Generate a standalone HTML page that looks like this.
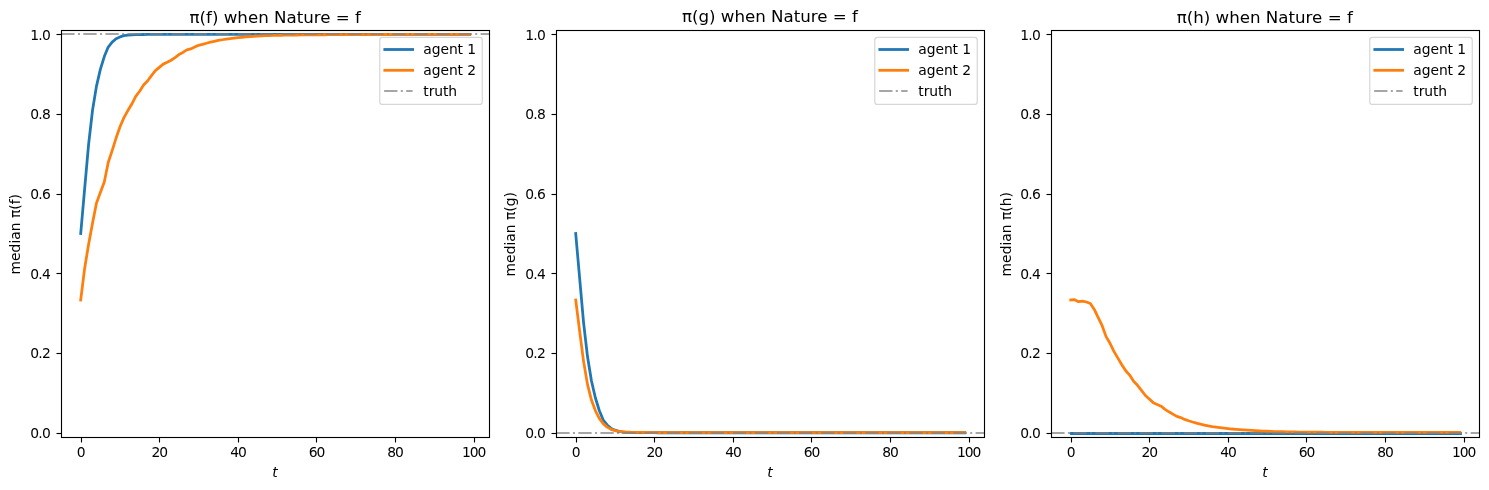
<!DOCTYPE html>
<html lang="en"><head><meta charset="utf-8"><title>Posterior medians</title>
<style>html,body{margin:0;padding:0;background:#fff;overflow:hidden}svg{display:block}</style></head>
<body>
<svg width="1489" height="490" viewBox="0 0 1489 490" font-family="'DejaVu Sans', 'Liberation Sans', sans-serif" fill="#000">
<rect width="1489" height="490" fill="#fff"/>
<g id="ax0">
<clipPath id="c0"><rect x="61.26" y="30.4" width="427.94" height="406.32000000000005"/></clipPath>
<g clip-path="url(#c0)">
<polyline points="80.71,233.56 84.64,188.96 88.57,144.56 92.50,110.53 96.43,86.35 100.36,69.39 104.29,56.59 108.22,47.05 112.15,42.13 116.08,38.73 120.01,36.92 123.94,35.69 127.87,35.10 131.80,34.81 135.73,34.70 139.66,34.58 143.59,34.49 147.52,34.47 151.45,34.44 155.38,34.42 159.31,34.39 163.23,34.38 167.16,34.38 171.09,34.38 175.02,34.38 178.95,34.38 182.88,34.38 186.81,34.38 190.74,34.38 194.67,34.38 198.60,34.38 202.53,34.38 206.46,34.38 210.39,34.38 214.32,34.38 218.25,34.38 222.18,34.38 226.11,34.38 230.04,34.38 233.97,34.38 237.90,34.38 241.83,34.38 245.76,34.38 249.69,34.38 253.62,34.38 257.55,34.38 261.48,34.38 265.41,34.38 269.34,34.38 273.27,34.38 277.19,34.38 281.12,34.38 285.05,34.38 288.98,34.38 292.91,34.38 296.84,34.38 300.77,34.38 304.70,34.38 308.63,34.38 312.56,34.38 316.49,34.38 320.42,34.38 324.35,34.38 328.28,34.38 332.21,34.38 336.14,34.38 340.07,34.38 344.00,34.38 347.93,34.38 351.86,34.38 355.79,34.38 359.72,34.38 363.65,34.38 367.58,34.38 371.51,34.38 375.44,34.38 379.37,34.38 383.30,34.38 387.23,34.38 391.15,34.38 395.08,34.38 399.01,34.38 402.94,34.38 406.87,34.38 410.80,34.38 414.73,34.38 418.66,34.38 422.59,34.38 426.52,34.38 430.45,34.38 434.38,34.38 438.31,34.38 442.24,34.38 446.17,34.38 450.10,34.38 454.03,34.38 457.96,34.38 461.89,34.38 465.82,34.38 469.75,34.38" fill="none" stroke="#1f77b4" stroke-width="2.78" stroke-linejoin="round" stroke-linecap="square"/>
<polyline points="80.71,299.95 84.64,268.42 88.57,244.44 92.50,223.30 96.43,203.20 100.36,192.60 104.29,182.00 108.22,162.50 112.15,150.59 116.08,138.06 120.01,126.82 123.94,117.67 127.87,110.58 131.80,104.04 135.73,96.27 139.66,91.26 143.59,84.97 147.52,81.03 151.45,75.61 155.38,70.65 159.31,67.35 163.23,64.12 167.16,62.25 171.09,60.22 175.02,57.60 178.95,54.54 182.88,52.43 186.81,49.91 190.74,48.92 194.67,47.08 198.60,45.34 202.53,44.35 206.46,43.28 210.39,42.16 214.32,41.27 218.25,40.40 222.18,39.75 226.11,39.15 230.04,38.63 233.97,38.13 237.90,37.70 241.83,37.31 245.76,36.93 249.69,36.57 253.62,36.28 257.55,36.04 261.48,35.84 265.41,35.69 269.34,35.56 273.27,35.44 277.19,35.33 281.12,35.26 285.05,35.19 288.98,35.12 292.91,35.06 296.84,35.01 300.77,34.97 304.70,34.92 308.63,34.87 312.56,34.83 316.49,34.81 320.42,34.78 324.35,34.75 328.28,34.73 332.21,34.70 336.14,34.68 340.07,34.65 344.00,34.64 347.93,34.62 351.86,34.61 355.79,34.59 359.72,34.58 363.65,34.56 367.58,34.55 371.51,34.53 375.44,34.52 379.37,34.50 383.30,34.49 387.23,34.49 391.15,34.48 395.08,34.47 399.01,34.46 402.94,34.45 406.87,34.45 410.80,34.44 414.73,34.43 418.66,34.42 422.59,34.42 426.52,34.41 430.45,34.41 434.38,34.41 438.31,34.41 442.24,34.40 446.17,34.40 450.10,34.40 454.03,34.39 457.96,34.39 461.89,34.39 465.82,34.38 469.75,34.38" fill="none" stroke="#ff7f0e" stroke-width="2.78" stroke-linejoin="round" stroke-linecap="square"/>
<line x1="61.26" y1="34.00" x2="489.20" y2="34.00" stroke="#808080" stroke-opacity="0.7" stroke-width="2" stroke-dasharray="13.33 3.33 2.08 3.33"/>
</g>
<line x1="81.5" y1="437.5" x2="81.5" y2="442.5" stroke="#000" stroke-width="1.11"/>
<text x="80.71" y="456.99" font-size="13.89" letter-spacing="-1.1" text-anchor="middle">0</text>
<line x1="159.5" y1="437.5" x2="159.5" y2="442.5" stroke="#000" stroke-width="1.11"/>
<text x="159.31" y="456.99" font-size="13.89" letter-spacing="-1.1" text-anchor="middle">20</text>
<line x1="238.5" y1="437.5" x2="238.5" y2="442.5" stroke="#000" stroke-width="1.11"/>
<text x="237.90" y="456.99" font-size="13.89" letter-spacing="-1.1" text-anchor="middle">40</text>
<line x1="316.5" y1="437.5" x2="316.5" y2="442.5" stroke="#000" stroke-width="1.11"/>
<text x="316.49" y="456.99" font-size="13.89" letter-spacing="-1.1" text-anchor="middle">60</text>
<line x1="395.5" y1="437.5" x2="395.5" y2="442.5" stroke="#000" stroke-width="1.11"/>
<text x="395.08" y="456.99" font-size="13.89" letter-spacing="-1.1" text-anchor="middle">80</text>
<line x1="474.5" y1="437.5" x2="474.5" y2="442.5" stroke="#000" stroke-width="1.11"/>
<text x="473.68" y="456.99" font-size="13.89" letter-spacing="-1.1" text-anchor="middle">100</text>
<line x1="56.5" y1="433.5" x2="61.5" y2="433.5" stroke="#000" stroke-width="1.11"/>
<text x="49.99" y="438.04" font-size="13.89" letter-spacing="-0.75" text-anchor="end">0.0</text>
<line x1="56.5" y1="353.5" x2="61.5" y2="353.5" stroke="#000" stroke-width="1.11"/>
<text x="49.99" y="358.37" font-size="13.89" letter-spacing="-0.75" text-anchor="end">0.2</text>
<line x1="56.5" y1="273.5" x2="61.5" y2="273.5" stroke="#000" stroke-width="1.11"/>
<text x="49.99" y="278.70" font-size="13.89" letter-spacing="-0.75" text-anchor="end">0.4</text>
<line x1="56.5" y1="194.5" x2="61.5" y2="194.5" stroke="#000" stroke-width="1.11"/>
<text x="49.99" y="199.02" font-size="13.89" letter-spacing="-0.75" text-anchor="end">0.6</text>
<line x1="56.5" y1="114.5" x2="61.5" y2="114.5" stroke="#000" stroke-width="1.11"/>
<text x="49.99" y="119.35" font-size="13.89" letter-spacing="-0.75" text-anchor="end">0.8</text>
<line x1="56.5" y1="34.5" x2="61.5" y2="34.5" stroke="#000" stroke-width="1.11"/>
<text x="49.99" y="39.68" font-size="13.89" letter-spacing="-0.75" text-anchor="end">1.0</text>
<rect x="61.5" y="30.5" width="428.0" height="407.0" fill="none" stroke="#000" stroke-width="1.11" stroke-linejoin="miter"/>
<text x="275.23" y="23.0" font-size="16.67" text-anchor="middle">π(f) when Nature = f</text>
<text x="274.93" y="476.5" font-size="13.89" font-style="italic" text-anchor="middle">t</text>
<text transform="translate(19.96,234.2) rotate(-90)" font-size="13.89" text-anchor="middle">median π(f)</text>
<rect x="379.76" y="37.34" width="102.50" height="67.10" rx="2.8" ry="2.8" fill="#fff" fill-opacity="0.8" stroke="#ccc" stroke-opacity="0.8" stroke-width="1.2"/>
<line x1="384.82" y1="49.5" x2="412.60" y2="49.5" stroke="#1f77b4" stroke-width="2.78" stroke-linecap="square"/>
<line x1="384.82" y1="70.3" x2="412.60" y2="70.3" stroke="#ff7f0e" stroke-width="2.78" stroke-linecap="square"/>
<line x1="384.12" y1="91.0" x2="412.60" y2="91.0" stroke="#808080" stroke-opacity="0.7" stroke-width="2.08" stroke-dasharray="13.33 3.33 2.08 3.33"/>
<text x="423.31" y="53.90" font-size="13.89" letter-spacing="-0.08">agent 1</text>
<text x="423.31" y="74.70" font-size="13.89" letter-spacing="-0.08">agent 2</text>
<text x="423.31" y="96.40" font-size="13.89" letter-spacing="-0.08">truth</text>
</g>
<g id="ax1">
<clipPath id="c1"><rect x="556.26" y="30.4" width="427.94" height="406.32000000000005"/></clipPath>
<g clip-path="url(#c1)">
<polyline points="575.71,233.56 579.64,278.16 583.57,322.56 587.50,356.59 591.43,380.77 595.36,397.73 599.29,410.53 603.22,420.07 607.15,424.99 611.08,428.39 615.01,430.20 618.94,431.43 622.87,432.02 626.80,432.31 630.73,432.42 634.66,432.54 638.59,432.63 642.52,432.65 646.45,432.68 650.38,432.70 654.31,432.73 658.23,432.74 662.16,432.74 666.09,432.74 670.02,432.74 673.95,432.74 677.88,432.74 681.81,432.74 685.74,432.74 689.67,432.74 693.60,432.74 697.53,432.74 701.46,432.74 705.39,432.74 709.32,432.74 713.25,432.74 717.18,432.74 721.11,432.74 725.04,432.74 728.97,432.74 732.90,432.74 736.83,432.74 740.76,432.74 744.69,432.74 748.62,432.74 752.55,432.74 756.48,432.74 760.41,432.74 764.34,432.74 768.27,432.74 772.19,432.74 776.12,432.74 780.05,432.74 783.98,432.74 787.91,432.74 791.84,432.74 795.77,432.74 799.70,432.74 803.63,432.74 807.56,432.74 811.49,432.74 815.42,432.74 819.35,432.74 823.28,432.74 827.21,432.74 831.14,432.74 835.07,432.74 839.00,432.74 842.93,432.74 846.86,432.74 850.79,432.74 854.72,432.74 858.65,432.74 862.58,432.74 866.51,432.74 870.44,432.74 874.37,432.74 878.30,432.74 882.23,432.74 886.15,432.74 890.08,432.74 894.01,432.74 897.94,432.74 901.87,432.74 905.80,432.74 909.73,432.74 913.66,432.74 917.59,432.74 921.52,432.74 925.45,432.74 929.38,432.74 933.31,432.74 937.24,432.74 941.17,432.74 945.10,432.74 949.03,432.74 952.96,432.74 956.89,432.74 960.82,432.74 964.75,432.74" fill="none" stroke="#1f77b4" stroke-width="2.78" stroke-linejoin="round" stroke-linecap="square"/>
<polyline points="575.71,299.95 579.64,331.07 583.57,361.37 587.50,384.39 591.43,400.10 595.36,410.58 599.29,418.41 603.22,423.62 607.15,427.09 611.08,429.31 615.01,430.63 618.94,431.35 622.87,431.70 626.80,432.02 630.73,432.23 634.66,432.31 638.59,432.38 642.52,432.45 646.45,432.50 650.38,432.52 654.31,432.53 658.23,432.54 662.16,432.55 666.09,432.56 670.02,432.58 673.95,432.59 677.88,432.60 681.81,432.61 685.74,432.62 689.67,432.63 693.60,432.65 697.53,432.65 701.46,432.65 705.39,432.65 709.32,432.65 713.25,432.65 717.18,432.65 721.11,432.65 725.04,432.66 728.97,432.66 732.90,432.66 736.83,432.66 740.76,432.66 744.69,432.66 748.62,432.66 752.55,432.66 756.48,432.66 760.41,432.66 764.34,432.66 768.27,432.66 772.19,432.66 776.12,432.67 780.05,432.67 783.98,432.67 787.91,432.67 791.84,432.67 795.77,432.67 799.70,432.67 803.63,432.67 807.56,432.67 811.49,432.67 815.42,432.67 819.35,432.67 823.28,432.67 827.21,432.67 831.14,432.68 835.07,432.68 839.00,432.68 842.93,432.68 846.86,432.68 850.79,432.68 854.72,432.68 858.65,432.68 862.58,432.68 866.51,432.68 870.44,432.68 874.37,432.68 878.30,432.68 882.23,432.68 886.15,432.69 890.08,432.69 894.01,432.69 897.94,432.69 901.87,432.69 905.80,432.69 909.73,432.69 913.66,432.69 917.59,432.69 921.52,432.69 925.45,432.69 929.38,432.69 933.31,432.69 937.24,432.69 941.17,432.70 945.10,432.70 949.03,432.70 952.96,432.70 956.89,432.70 960.82,432.70 964.75,432.70" fill="none" stroke="#ff7f0e" stroke-width="2.78" stroke-linejoin="round" stroke-linecap="square"/>
<line x1="556.26" y1="433.00" x2="984.20" y2="433.00" stroke="#808080" stroke-opacity="0.7" stroke-width="2" stroke-dasharray="13.33 3.33 2.08 3.33"/>
</g>
<line x1="576.5" y1="437.5" x2="576.5" y2="442.5" stroke="#000" stroke-width="1.11"/>
<text x="575.71" y="456.99" font-size="13.89" letter-spacing="-1.1" text-anchor="middle">0</text>
<line x1="654.5" y1="437.5" x2="654.5" y2="442.5" stroke="#000" stroke-width="1.11"/>
<text x="654.31" y="456.99" font-size="13.89" letter-spacing="-1.1" text-anchor="middle">20</text>
<line x1="733.5" y1="437.5" x2="733.5" y2="442.5" stroke="#000" stroke-width="1.11"/>
<text x="732.90" y="456.99" font-size="13.89" letter-spacing="-1.1" text-anchor="middle">40</text>
<line x1="811.5" y1="437.5" x2="811.5" y2="442.5" stroke="#000" stroke-width="1.11"/>
<text x="811.49" y="456.99" font-size="13.89" letter-spacing="-1.1" text-anchor="middle">60</text>
<line x1="890.5" y1="437.5" x2="890.5" y2="442.5" stroke="#000" stroke-width="1.11"/>
<text x="890.08" y="456.99" font-size="13.89" letter-spacing="-1.1" text-anchor="middle">80</text>
<line x1="969.5" y1="437.5" x2="969.5" y2="442.5" stroke="#000" stroke-width="1.11"/>
<text x="968.68" y="456.99" font-size="13.89" letter-spacing="-1.1" text-anchor="middle">100</text>
<line x1="551.5" y1="433.5" x2="556.5" y2="433.5" stroke="#000" stroke-width="1.11"/>
<text x="544.99" y="438.04" font-size="13.89" letter-spacing="-0.75" text-anchor="end">0.0</text>
<line x1="551.5" y1="353.5" x2="556.5" y2="353.5" stroke="#000" stroke-width="1.11"/>
<text x="544.99" y="358.37" font-size="13.89" letter-spacing="-0.75" text-anchor="end">0.2</text>
<line x1="551.5" y1="273.5" x2="556.5" y2="273.5" stroke="#000" stroke-width="1.11"/>
<text x="544.99" y="278.70" font-size="13.89" letter-spacing="-0.75" text-anchor="end">0.4</text>
<line x1="551.5" y1="194.5" x2="556.5" y2="194.5" stroke="#000" stroke-width="1.11"/>
<text x="544.99" y="199.02" font-size="13.89" letter-spacing="-0.75" text-anchor="end">0.6</text>
<line x1="551.5" y1="114.5" x2="556.5" y2="114.5" stroke="#000" stroke-width="1.11"/>
<text x="544.99" y="119.35" font-size="13.89" letter-spacing="-0.75" text-anchor="end">0.8</text>
<line x1="551.5" y1="34.5" x2="556.5" y2="34.5" stroke="#000" stroke-width="1.11"/>
<text x="544.99" y="39.68" font-size="13.89" letter-spacing="-0.75" text-anchor="end">1.0</text>
<rect x="556.5" y="30.5" width="428.0" height="407.0" fill="none" stroke="#000" stroke-width="1.11" stroke-linejoin="miter"/>
<text x="769.93" y="22.3" font-size="16.67" text-anchor="middle">π(g) when Nature = f</text>
<text x="769.93" y="476.5" font-size="13.89" font-style="italic" text-anchor="middle">t</text>
<text transform="translate(514.96,234.2) rotate(-90)" font-size="13.89" text-anchor="middle">median π(g)</text>
<rect x="874.76" y="37.34" width="102.50" height="67.10" rx="2.8" ry="2.8" fill="#fff" fill-opacity="0.8" stroke="#ccc" stroke-opacity="0.8" stroke-width="1.2"/>
<line x1="879.82" y1="49.5" x2="907.60" y2="49.5" stroke="#1f77b4" stroke-width="2.78" stroke-linecap="square"/>
<line x1="879.82" y1="70.3" x2="907.60" y2="70.3" stroke="#ff7f0e" stroke-width="2.78" stroke-linecap="square"/>
<line x1="879.12" y1="91.0" x2="907.60" y2="91.0" stroke="#808080" stroke-opacity="0.7" stroke-width="2.08" stroke-dasharray="13.33 3.33 2.08 3.33"/>
<text x="918.31" y="53.90" font-size="13.89" letter-spacing="-0.08">agent 1</text>
<text x="918.31" y="74.70" font-size="13.89" letter-spacing="-0.08">agent 2</text>
<text x="918.31" y="96.40" font-size="13.89" letter-spacing="-0.08">truth</text>
</g>
<g id="ax2">
<clipPath id="c2"><rect x="1051.26" y="30.4" width="427.94" height="406.32000000000005"/></clipPath>
<g clip-path="url(#c2)">
<polyline points="1071.46,433.50 1075.39,433.50 1079.32,433.50 1083.25,433.50 1087.18,433.50 1091.11,433.50 1095.04,433.50 1098.97,433.50 1102.90,433.50 1106.83,433.50 1110.76,433.50 1114.69,433.50 1118.62,433.50 1122.55,433.50 1126.48,433.50 1130.41,433.50 1134.34,433.50 1138.27,433.50 1142.20,433.50 1146.13,433.50 1150.06,433.50 1153.98,433.50 1157.91,433.50 1161.84,433.50 1165.77,433.50 1169.70,433.50 1173.63,433.50 1177.56,433.50 1181.49,433.50 1185.42,433.50 1189.35,433.50 1193.28,433.50 1197.21,433.50 1201.14,433.50 1205.07,433.50 1209.00,433.50 1212.93,433.50 1216.86,433.50 1220.79,433.50 1224.72,433.50 1228.65,433.50 1232.58,433.50 1236.51,433.50 1240.44,433.50 1244.37,433.50 1248.30,433.50 1252.23,433.50 1256.16,433.50 1260.09,433.50 1264.02,433.50 1267.94,433.50 1271.87,433.50 1275.80,433.50 1279.73,433.50 1283.66,433.50 1287.59,433.50 1291.52,433.50 1295.45,433.50 1299.38,433.50 1303.31,433.50 1307.24,433.50 1311.17,433.50 1315.10,433.50 1319.03,433.50 1322.96,433.50 1326.89,433.50 1330.82,433.50 1334.75,433.50 1338.68,433.50 1342.61,433.50 1346.54,433.50 1350.47,433.50 1354.40,433.50 1358.33,433.50 1362.26,433.50 1366.19,433.50 1370.12,433.50 1374.05,433.50 1377.98,433.50 1381.90,433.50 1385.83,433.50 1389.76,433.50 1393.69,433.50 1397.62,433.50 1401.55,433.50 1405.48,433.50 1409.41,433.50 1413.34,433.50 1417.27,433.50 1421.20,433.50 1425.13,433.50 1429.06,433.50 1432.99,433.50 1436.92,433.50 1440.85,433.50 1444.78,433.50 1448.71,433.50 1452.64,433.50 1456.57,433.50 1460.50,433.50" fill="none" stroke="#1f77b4" stroke-width="2.78" stroke-linejoin="round" stroke-linecap="square"/>
<polyline points="1070.71,299.95 1074.64,299.70 1078.57,301.70 1082.50,301.20 1086.43,302.00 1090.36,303.50 1094.29,309.40 1098.22,317.55 1102.15,325.70 1106.08,336.60 1110.01,343.30 1113.94,351.40 1117.87,358.10 1121.80,364.70 1125.73,370.80 1129.66,375.10 1133.59,381.20 1137.52,385.30 1141.45,390.40 1145.38,395.50 1149.31,399.10 1153.23,402.65 1157.16,404.40 1161.09,406.20 1165.02,409.30 1168.95,411.80 1172.88,414.10 1176.81,416.40 1180.74,417.60 1184.67,419.40 1188.60,420.78 1192.53,421.98 1196.46,423.08 1200.39,424.16 1204.32,425.05 1208.25,425.95 1212.18,426.65 1216.11,427.16 1220.04,427.67 1223.97,428.14 1227.90,428.60 1231.83,429.01 1235.76,429.33 1239.69,429.64 1243.62,429.92 1247.55,430.20 1251.48,430.46 1255.41,430.69 1259.34,430.92 1263.27,431.11 1267.19,431.26 1271.12,431.41 1275.05,431.53 1278.98,431.65 1282.91,431.74 1286.84,431.82 1290.77,431.90 1294.70,431.98 1298.63,432.06 1302.56,432.11 1306.49,432.14 1310.42,432.17 1314.35,432.19 1318.28,432.22 1322.21,432.25 1326.14,432.27 1330.07,432.30 1334.00,432.30 1337.93,432.30 1341.86,432.31 1345.79,432.31 1349.72,432.31 1353.65,432.31 1357.58,432.31 1361.51,432.31 1365.44,432.32 1369.37,432.32 1373.30,432.32 1377.23,432.32 1381.15,432.32 1385.08,432.33 1389.01,432.33 1392.94,432.33 1396.87,432.33 1400.80,432.33 1404.73,432.33 1408.66,432.34 1412.59,432.34 1416.52,432.34 1420.45,432.34 1424.38,432.34 1428.31,432.35 1432.24,432.35 1436.17,432.35 1440.10,432.35 1444.03,432.35 1447.96,432.35 1451.89,432.36 1455.82,432.36 1459.75,432.36" fill="none" stroke="#ff7f0e" stroke-width="2.78" stroke-linejoin="round" stroke-linecap="square"/>
<line x1="1051.26" y1="433.00" x2="1479.20" y2="433.00" stroke="#808080" stroke-opacity="0.7" stroke-width="2" stroke-dasharray="13.33 3.33 2.08 3.33"/>
</g>
<line x1="1071.5" y1="437.5" x2="1071.5" y2="442.5" stroke="#000" stroke-width="1.11"/>
<text x="1070.71" y="456.99" font-size="13.89" letter-spacing="-1.1" text-anchor="middle">0</text>
<line x1="1149.5" y1="437.5" x2="1149.5" y2="442.5" stroke="#000" stroke-width="1.11"/>
<text x="1149.31" y="456.99" font-size="13.89" letter-spacing="-1.1" text-anchor="middle">20</text>
<line x1="1228.5" y1="437.5" x2="1228.5" y2="442.5" stroke="#000" stroke-width="1.11"/>
<text x="1227.90" y="456.99" font-size="13.89" letter-spacing="-1.1" text-anchor="middle">40</text>
<line x1="1306.5" y1="437.5" x2="1306.5" y2="442.5" stroke="#000" stroke-width="1.11"/>
<text x="1306.49" y="456.99" font-size="13.89" letter-spacing="-1.1" text-anchor="middle">60</text>
<line x1="1385.5" y1="437.5" x2="1385.5" y2="442.5" stroke="#000" stroke-width="1.11"/>
<text x="1385.08" y="456.99" font-size="13.89" letter-spacing="-1.1" text-anchor="middle">80</text>
<line x1="1464.5" y1="437.5" x2="1464.5" y2="442.5" stroke="#000" stroke-width="1.11"/>
<text x="1463.68" y="456.99" font-size="13.89" letter-spacing="-1.1" text-anchor="middle">100</text>
<line x1="1046.5" y1="433.5" x2="1051.5" y2="433.5" stroke="#000" stroke-width="1.11"/>
<text x="1039.99" y="438.04" font-size="13.89" letter-spacing="-0.75" text-anchor="end">0.0</text>
<line x1="1046.5" y1="353.5" x2="1051.5" y2="353.5" stroke="#000" stroke-width="1.11"/>
<text x="1039.99" y="358.37" font-size="13.89" letter-spacing="-0.75" text-anchor="end">0.2</text>
<line x1="1046.5" y1="273.5" x2="1051.5" y2="273.5" stroke="#000" stroke-width="1.11"/>
<text x="1039.99" y="278.70" font-size="13.89" letter-spacing="-0.75" text-anchor="end">0.4</text>
<line x1="1046.5" y1="194.5" x2="1051.5" y2="194.5" stroke="#000" stroke-width="1.11"/>
<text x="1039.99" y="199.02" font-size="13.89" letter-spacing="-0.75" text-anchor="end">0.6</text>
<line x1="1046.5" y1="114.5" x2="1051.5" y2="114.5" stroke="#000" stroke-width="1.11"/>
<text x="1039.99" y="119.35" font-size="13.89" letter-spacing="-0.75" text-anchor="end">0.8</text>
<line x1="1046.5" y1="34.5" x2="1051.5" y2="34.5" stroke="#000" stroke-width="1.11"/>
<text x="1039.99" y="39.68" font-size="13.89" letter-spacing="-0.75" text-anchor="end">1.0</text>
<rect x="1051.5" y="30.5" width="428.0" height="407.0" fill="none" stroke="#000" stroke-width="1.11" stroke-linejoin="miter"/>
<text x="1264.73" y="22.5" font-size="16.67" text-anchor="middle">π(h) when Nature = f</text>
<text x="1264.93" y="476.5" font-size="13.89" font-style="italic" text-anchor="middle">t</text>
<text transform="translate(1010.96,234.2) rotate(-90)" font-size="13.89" text-anchor="middle">median π(h)</text>
<rect x="1369.76" y="37.34" width="102.50" height="67.10" rx="2.8" ry="2.8" fill="#fff" fill-opacity="0.8" stroke="#ccc" stroke-opacity="0.8" stroke-width="1.2"/>
<line x1="1374.82" y1="49.5" x2="1402.60" y2="49.5" stroke="#1f77b4" stroke-width="2.78" stroke-linecap="square"/>
<line x1="1374.82" y1="70.3" x2="1402.60" y2="70.3" stroke="#ff7f0e" stroke-width="2.78" stroke-linecap="square"/>
<line x1="1374.12" y1="91.0" x2="1402.60" y2="91.0" stroke="#808080" stroke-opacity="0.7" stroke-width="2.08" stroke-dasharray="13.33 3.33 2.08 3.33"/>
<text x="1413.31" y="53.90" font-size="13.89" letter-spacing="-0.08">agent 1</text>
<text x="1413.31" y="74.70" font-size="13.89" letter-spacing="-0.08">agent 2</text>
<text x="1413.31" y="96.40" font-size="13.89" letter-spacing="-0.08">truth</text>
</g>
</svg>
</body></html>
